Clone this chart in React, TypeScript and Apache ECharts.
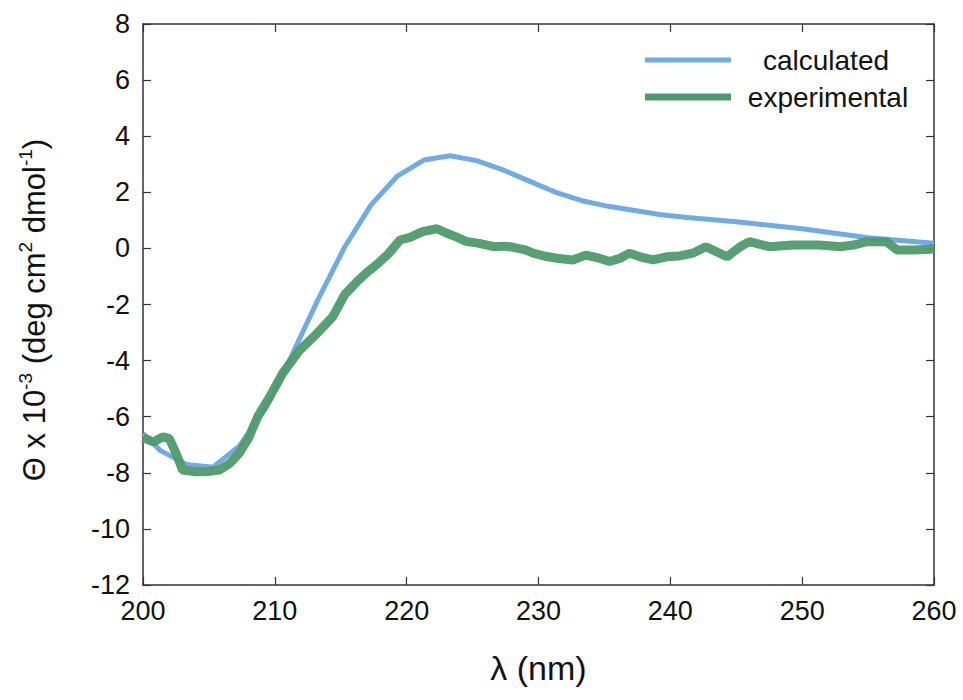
import React, { useEffect, useRef } from "react";
import * as echarts from "echarts";

const calcX = [200, 201.3, 203.3, 205.3, 207.3, 209.3, 211.3, 213.3, 215.3, 217.3, 219.3, 221.3, 223.3, 225.3, 227.3, 229.3, 231.3, 233.3, 235.3, 237.3, 239.3, 241.3, 245, 250, 255, 260];
const calcY = [-6.6, -7.2, -7.7, -7.8, -7.05, -5.7, -3.8, -1.8, 0.05, 1.55, 2.58, 3.15, 3.3, 3.13, 2.8, 2.4, 2.0, 1.7, 1.5, 1.35, 1.2, 1.1, 0.95, 0.7, 0.38, 0.18];

const expX = [200, 200.8, 201.5, 202, 202.5, 203, 204, 205, 205.8, 206.6, 207.3, 208, 208.7, 209.6, 210.6, 211.9, 213.2, 214.4, 215.3, 216.2, 217, 217.8, 218.6, 219.5, 220.3, 221.2, 222.3, 223, 223.8, 224.5, 225.5, 226.6, 227.4, 228.1, 229, 229.6, 230.5, 231.4, 232.6, 233.6, 234.6, 235.4, 236.2, 236.9, 237.7, 238.7, 239.7, 240.7, 241.7, 242.7, 243.5, 244.3, 245.3, 246, 247.5, 249.3, 251.3, 252.9, 253.9, 254.9, 256.4, 257.2, 258.4, 259.7, 260];
const expY = [-6.75, -6.9, -6.72, -6.78, -7.3, -7.9, -7.96, -7.95, -7.9, -7.66, -7.3, -6.77, -6.0, -5.3, -4.45, -3.62, -3.03, -2.43, -1.65, -1.2, -0.85, -0.55, -0.2, 0.3, 0.4, 0.6, 0.7, 0.55, 0.4, 0.25, 0.18, 0.06, 0.08, 0.04, -0.05, -0.17, -0.28, -0.35, -0.41, -0.24, -0.35, -0.47, -0.35, -0.17, -0.3, -0.41, -0.3, -0.27, -0.17, 0.06, -0.12, -0.3, 0.06, 0.24, 0.06, 0.12, 0.12, 0.06, 0.12, 0.24, 0.24, -0.06, -0.06, -0.03, 0.0];

const seriesNames = ["calculated", "experimental"];
const xName = "λ (nm)";

const BLUE = "#72abe1";
const GREEN = "#4f9a6c";
const FONT = "Liberation Sans";

export default function App() {
  const ref = useRef<HTMLDivElement>(null);
  useEffect(() => {
    if (!ref.current) return;
    const chart = echarts.init(ref.current, undefined, { renderer: "svg" });
    const calcData = calcX.map((x, i) => [x, calcY[i]]);
    const expData = expX.map((x, i) => [x, expY[i]]);
    const axisLine = { show: true, onZero: false, lineStyle: { color: "#333", width: 1.5 } };
    const axisTick = { show: true, inside: true, length: 8, lineStyle: { color: "#333", width: 1.2 } };
    chart.setOption({
      animation: false,
      backgroundColor: "#fff",
      grid: { left: 143, right: 29, top: 24, bottom: 115, containLabel: false },
      xAxis: [
        {
          type: "value", min: 200, max: 260, interval: 10, position: "bottom",
          axisLine, axisTick, splitLine: { show: false },
          axisLabel: { fontFamily: FONT, fontSize: 27, color: "#111", margin: 12 },
          name: xName, nameLocation: "middle", nameGap: 66,
          nameTextStyle: { fontFamily: FONT, fontSize: 34, color: "#111" },
        },
        {
          type: "value", min: 200, max: 260, interval: 10, position: "top",
          axisLine, axisTick, splitLine: { show: false }, axisLabel: { show: false },
        },
      ],
      yAxis: [
        {
          type: "value", min: -12, max: 8, interval: 2, position: "left",
          axisLine, axisTick, splitLine: { show: false },
          axisLabel: { fontFamily: FONT, fontSize: 27, color: "#111", margin: 13 },
        },
        {
          type: "value", min: -12, max: 8, interval: 2, position: "right",
          axisLine, axisTick, splitLine: { show: false }, axisLabel: { show: false },
        },
      ],
      series: [
        {
          name: seriesNames[0], type: "line", data: calcData, showSymbol: false, smooth: false,
          lineStyle: { color: BLUE, width: 5 }, z: 2,
        },
        {
          name: seriesNames[1], type: "line", data: expData, showSymbol: false, smooth: false,
          lineStyle: { color: GREEN, width: 9, opacity: 0.95 }, z: 3,
        },
      ],
      graphic: [
        { type: "line", shape: { x1: 645, y1: 60, x2: 731, y2: 60 }, style: { stroke: BLUE, lineWidth: 5 } },
        { type: "text", x: 826, y: 60, style: { text: seriesNames[0], fontFamily: FONT, fontSize: 28, fill: "#111", align: "center", verticalAlign: "middle" } },
        { type: "line", shape: { x1: 645, y1: 97, x2: 731, y2: 97 }, style: { stroke: GREEN, lineWidth: 7 } },
        { type: "text", x: 828, y: 97, style: { text: seriesNames[1], fontFamily: FONT, fontSize: 28, fill: "#111", align: "center", verticalAlign: "middle" } },
        {
          type: "text", x: 34, y: 310, rotation: Math.PI / 2,
          style: {
            text: "{a|Θ x 10}{s|-3}{a| (deg cm}{s|2}{a| dmol}{s|-1}{a|)}",
            align: "center", verticalAlign: "middle",
            rich: {
              a: { fontFamily: FONT, fontSize: 31, fill: "#111", lineHeight: 36 },
              s: { fontFamily: FONT, fontSize: 19, fill: "#111", verticalAlign: "top", lineHeight: 36, padding: [0, 0, 14, 0] },
            },
          },
        },
      ],
    });
    return () => chart.dispose();
  }, []);
  return <div ref={ref} style={{ position: "fixed", left: 0, top: 0, width: 963, height: 700 }} />;
}
